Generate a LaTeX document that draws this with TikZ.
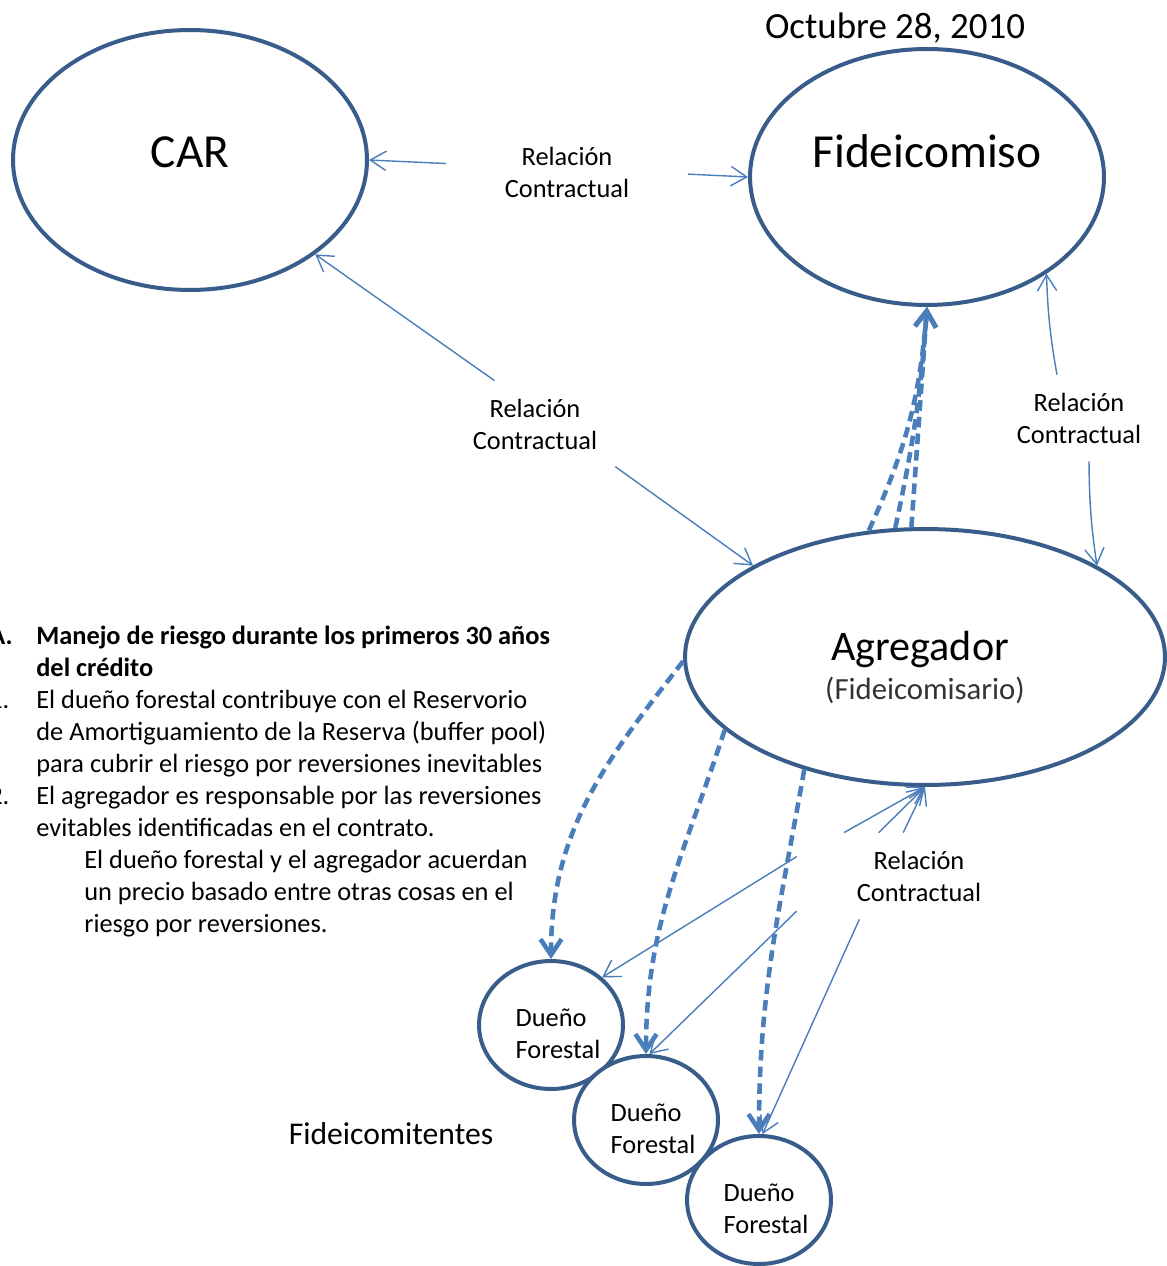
\documentclass[tikz,border=0pt]{standalone}
\usepackage{fontspec}
\setmainfont{Carlito}
\usetikzlibrary{shapes,arrows.meta,positioning}
\definecolor{ovalBlue}{HTML}{385D8A}
\definecolor{lineBlue}{HTML}{4A7EBB}

\begin{document}
\begin{tikzpicture}[x=0.02cm,y=0.02cm]
\tikzstyle{oval} = [draw=ovalBlue, line width=0.08cm, ellipse, inner sep=0pt, fill=white]
\tikzstyle{relArrow} = [lineBlue, line width=0.8pt, -{Straight Barb[length=9pt,width=11pt]}]
\tikzstyle{flowArrow} = [lineBlue, line width=2.6pt, dash pattern=on 6pt off 3.5pt, -{Straight Barb[length=9pt,width=12pt]}]
\tikzstyle{relLabel} = [font=\fontsize{15}{18.2}\selectfont, align=center, inner sep=0pt, minimum height=1.72cm]
\tikzstyle{owner} = [oval, minimum width=2.88cm, minimum height=2.56cm, align=left, font=\fontsize{15}{18.2}\selectfont]

\useasboundingbox (0,0) rectangle (1166,-1266);

\node[font=\fontsize{21}{25}\selectfont] at (895,-28) (fecha) {Octubre 28, 2010};

% main parties
\node[oval, minimum width=7.08cm, minimum height=5.2cm, font=\fontsize{27}{32}\selectfont, text height=0.7cm, text depth=0.38cm] at (190,-160) (car) {CAR};
\node[oval, minimum width=7.08cm, minimum height=5.12cm, font=\fontsize{27}{32}\selectfont, text height=0.7cm, text depth=1.06cm] at (927,-177) (fid) {Fideicomiso};
\node[oval, minimum width=9.6cm, minimum height=5.12cm, align=center, font=\fontsize{24}{28}\selectfont] at (925,-657) (agr) {\rule{0pt}{1.0cm}Agregador\hspace*{0.2cm}\\[-6pt]{\fontsize{17.5}{20}\selectfont\color{black!80}(Fideicomisario)}};

% forest owners
\node[owner] at (551,-1025) (d1) {\rule{0pt}{0.69cm}\hspace*{0.28cm}Dueño\\\hspace*{0.28cm}Forestal};
\node[owner] at (646,-1120) (d2) {\rule{0pt}{0.69cm}\hspace*{0.28cm}Dueño\\\hspace*{0.28cm}Forestal};
\node[owner] at (759,-1200) (d3) {\rule{0pt}{0.69cm}\hspace*{0.28cm}Dueño\\\hspace*{0.28cm}Forestal};

\node[font=\fontsize{18}{22}\selectfont] at (391,-1134) (fidtes) {Fideicomitentes};

% contract labels
\node[relLabel, minimum width=4.82cm, minimum height=1.2cm] at (567,-172) (relTop) {Relación\\Contractual};
\node[relLabel, minimum width=3.2cm] at (535,-424) (relMid) {Relación\\Contractual};
\node[relLabel, minimum width=3.2cm] at (1079,-418) (relRight) {Relación\\Contractual};
\node[relLabel, minimum width=4.88cm] at (919,-876) (relBot) {Relación\\Contractual};

% risk text
\node[anchor=north west, inner sep=0pt, font=\fontsize{15}{18.2}\selectfont] at (-11,-622) (riesgo) {%
\begin{tabular}{@{}p{0.94cm}@{}l@{}}
\textbf{A.} & \textbf{Manejo de riesgo durante los primeros 30 años}\\
 & \textbf{del crédito}\\
1. & El dueño forestal contribuye con el Reservorio\\
 & de Amortiguamiento de la Reserva (buffer pool)\\
 & para cubrir el riesgo por reversiones inevitables\\
2. & El agregador es responsable por las reversiones\\
 & evitables identificadas en el contrato.\\
 & \hspace{0.96cm}El dueño forestal y el agregador acuerdan\\
 & \hspace{0.96cm}un precio basado entre otras cosas en el\\
 & \hspace{0.96cm}riesgo por reversiones.
\end{tabular}};

% contractual relations
\draw[relArrow] (relTop.176) -- (car.0);
\draw[relArrow] (relTop.-1.4) -- (fid.180);
\draw[relArrow] (relMid.133.7) -- (car.323);
\draw[relArrow] (relMid.-28) -- (agr.152);
\draw[relArrow] (relRight.117) to[bend left=4] (fid.321);
\draw[relArrow] (relRight.-77) to[bend right=4] (agr.28);
\draw[relArrow] (relBot.150) -- (agr.270);
\draw[relArrow] (relBot.133) -- (agr.270);
\draw[relArrow] (relBot.110) -- (agr.270);
\draw[relArrow] (relBot.171) -- (d1.43);
\draw[relArrow] (relBot.196) -- (d2.87);
\draw[relArrow] (relBot.216) -- (d3.87);

% flows
\draw[flowArrow] (agr.114) to[bend right=10] (fid.south);
\draw[flowArrow] (agr.103) to[bend right=4] (fid.south);
\draw[flowArrow] (agr.96) -- (fid.south);
\draw[flowArrow] (agr.181) to[out=232, in=90] (d1.north);
\draw[flowArrow] (agr.200) to[out=252, in=90] (d2.north);
\draw[flowArrow] (agr.223.5) to[out=260, in=90] (d3.north);
\end{tikzpicture}
\end{document}
